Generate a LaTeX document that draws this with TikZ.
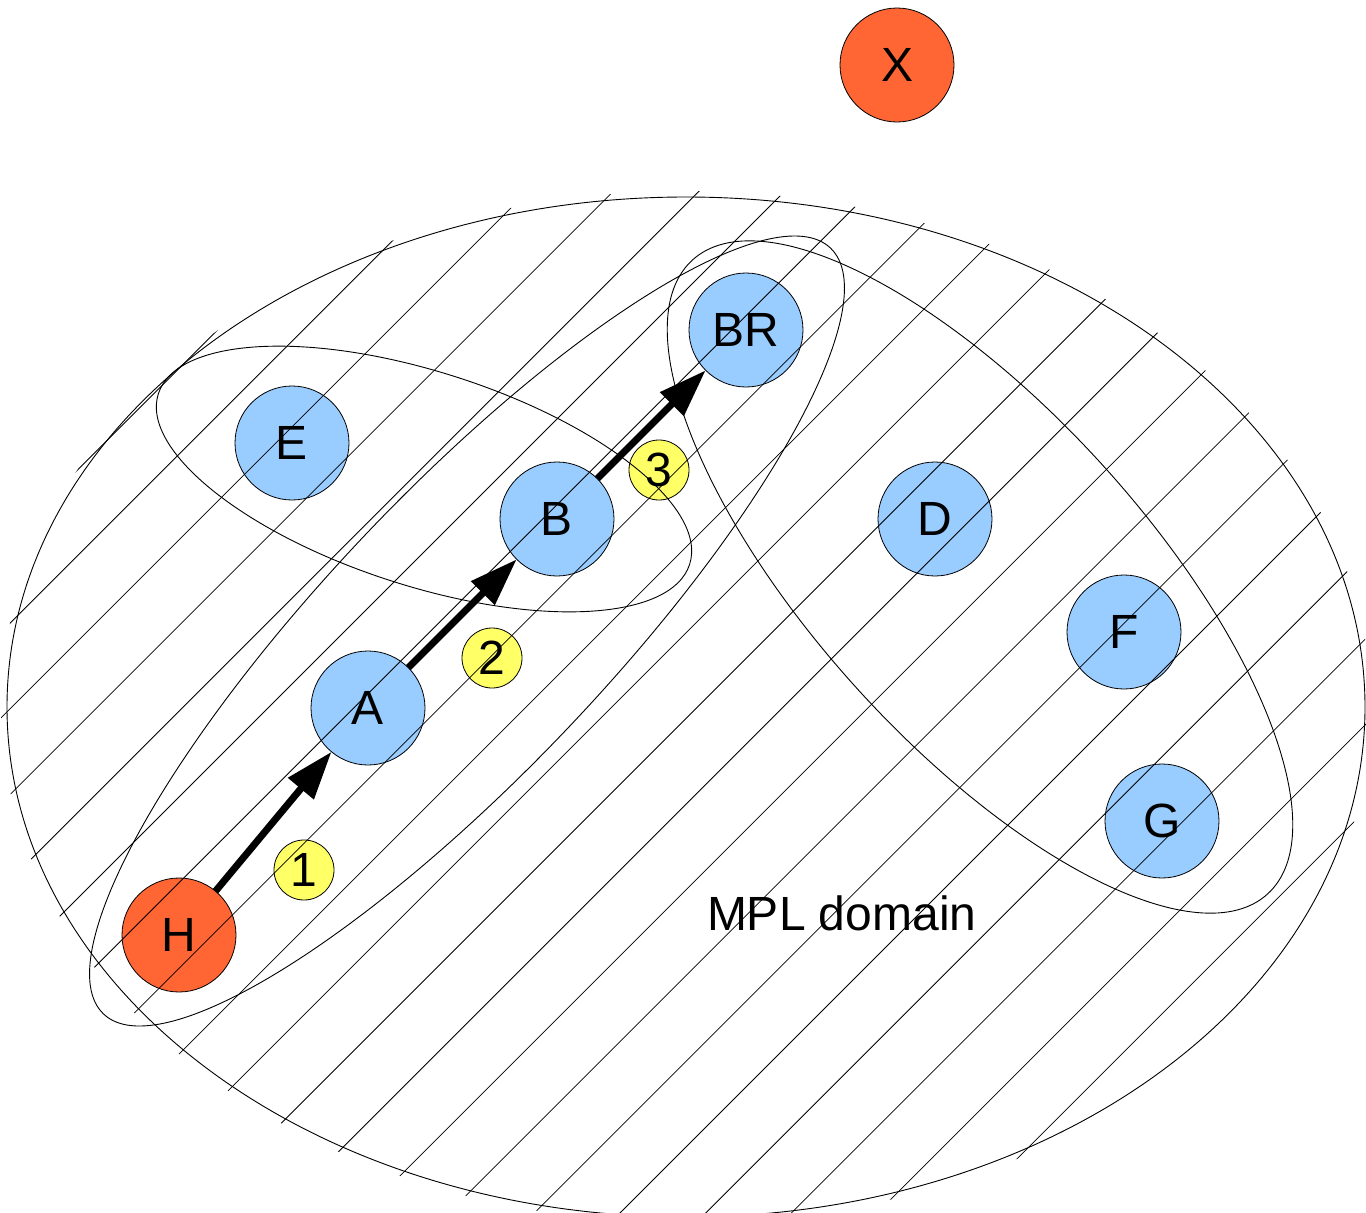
\documentclass[tikz,border=0pt]{standalone}
\usepackage{fontspec}
\setmainfont{Liberation Sans}
\usetikzlibrary{arrows.meta}
\definecolor{routerblue}{HTML}{99CCFF}
\definecolor{routerorange}{HTML}{FF6633}
\definecolor{stepyellow}{HTML}{FFFF66}

\begin{document}
\begin{tikzpicture}[x=1pt, y=-1pt,
  every node/.style={outer sep=0pt, inner sep=0pt},
  bigfont/.style={font=\fontsize{48}{52}\selectfont},
  router/.style={circle, draw=black, line width=0.8pt, minimum size=114pt, bigfont},
  inner router/.style={router, fill=routerblue},
  outer router/.style={router, fill=routerorange},
  stepmark/.style={circle, draw=black, line width=0.8pt, fill=stepyellow, minimum size=60pt, bigfont},
  outline/.style={draw=black, line width=0.9pt},
  hatchline/.style={draw=black, line width=0.8pt},
  hop/.style={line width=7pt, -{Triangle[length=48pt, width=32pt]}},
]
\useasboundingbox (0,0) rectangle (1366,1213);
\fill[white] (0,0) rectangle (1366,1213);

% routers
\node[outer router] (X)  at (897,65)  {X};
\node[outer router] (H)  at (179,935) {H};
\node[inner router] (A)  at (368,708) {A};
\node[inner router] (B)  at (557,519) {B};
\node[inner router] (BR) at (746,330) {BR};
\node[inner router] (E)  at (292,443) {E};
\node[inner router] (D)  at (935,519) {D};
\node[inner router] (F)  at (1124,632) {F};
\node[inner router] (G)  at (1162,821) {G};

% step markers
\node[stepmark] (s1) at (304,870) {1};
\node[stepmark] (s2) at (492,658) {2};
\node[stepmark] (s3) at (659,470) {3};

% hatched MPL domain
\begin{scope}
  \clip (686,707) ellipse [x radius=685, y radius=516];
  \foreach \k in {6,...,26} {
    \pgfmathsetmacro{\c}{33.3+85.7*\k}
    \draw[hatchline] (\c-1500,1500) -- (\c+300,-300);
  }
\end{scope}
\draw[outline] (686,707) ellipse [x radius=679, y radius=510];

% groupings
\draw[outline, rotate around={46.5:(467,631)}] (467,631) ellipse [x radius=528, y radius=140];
\draw[outline, rotate around={-17.8:(424,479)}] (424,479) ellipse [x radius=279, y radius=107];
\draw[outline, rotate around={-47.8:(980,577)}] (980,577) ellipse [x radius=428, y radius=166];

% path
\draw[hop] (H) -- (A);
\draw[hop] (A) -- (B);
\draw[hop] (B) -- (BR);

\node[bigfont, anchor=base west] (mpl) at (707,930) {MPL domain};
\end{tikzpicture}
\end{document}
